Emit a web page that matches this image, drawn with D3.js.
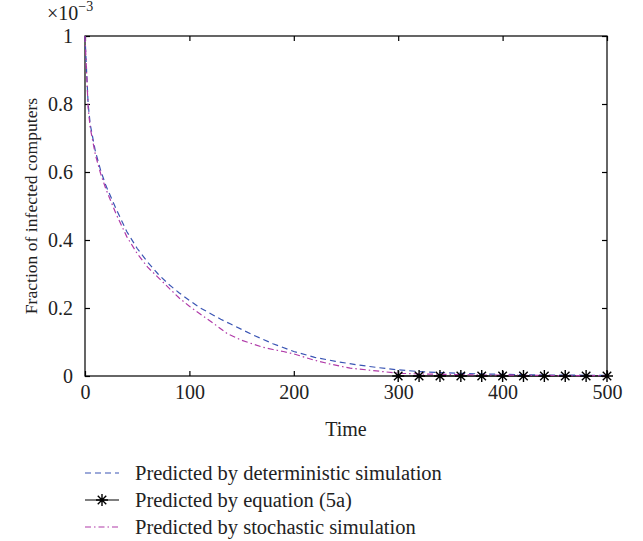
<!DOCTYPE html>
<html>
<head>
<meta charset="utf-8">
<script src="https://cdn.jsdelivr.net/npm/d3@7"></script>
<style>
  html, body { margin: 0; padding: 0; background: #fff; }
  svg { display: block; }
  text { font-family: "Liberation Serif", "DejaVu Serif", serif; fill: #222; }
</style>
</head>
<body>
<svg id="chart" width="643" height="541"></svg>
<script>
// ---- data (fraction ×10^-3) ----
const detTime = [0, 3, 5, 10, 15, 20, 30, 40, 50, 60, 70, 80, 90, 100, 110, 120, 130, 140, 160, 180, 200, 220, 240, 260, 280, 300, 320, 340, 360, 380, 400, 420, 440, 460, 480, 500];
const detValue = [1.0, 0.80, 0.74, 0.66, 0.605, 0.56, 0.49, 0.425, 0.375, 0.335, 0.30, 0.27, 0.245, 0.222, 0.201, 0.184, 0.167, 0.152, 0.122, 0.095, 0.072, 0.055, 0.043, 0.033, 0.025, 0.018, 0.013, 0.010, 0.008, 0.006, 0.005, 0.004, 0.003, 0.003, 0.002, 0.002];

const stoTime = [0, 3, 5, 10, 15, 20, 30, 40, 50, 60, 70, 80, 90, 100, 110, 123, 136, 150, 160, 170, 180, 190, 200, 219, 235, 254, 270, 285, 302, 320, 340, 360, 380, 400, 420, 440, 460, 480, 500];
const stoValue = [1.0, 0.79, 0.73, 0.65, 0.595, 0.55, 0.475, 0.41, 0.36, 0.32, 0.29, 0.26, 0.23, 0.205, 0.183, 0.155, 0.125, 0.105, 0.095, 0.085, 0.078, 0.072, 0.065, 0.047, 0.035, 0.023, 0.018, 0.013, 0.008, 0.006, 0.005, 0.004, 0.003, 0.003, 0.002, 0.002, 0.001, 0.001, 0.001];

const eqTime = [300, 320, 340, 360, 380, 400, 420, 440, 460, 480, 500];
const eqValue = [0, 0, 0, 0, 0, 0, 0, 0, 0, 0, 0];

const xTicks = [0, 100, 200, 300, 400, 500];
const yTicks = [0, 0.2, 0.4, 0.6, 0.8, 1];
const yTickLabels = ["0", "0.2", "0.4", "0.6", "0.8", "1"];

const legendLabels = [
  "Predicted by deterministic simulation",
  "Predicted by equation (5a)",
  "Predicted by stochastic simulation"
];

// ---- drawing ----
(function () {
const svg = d3.select("#chart");
const pL = 85, pR = 607, pT = 36, pB = 376;
const x = d3.scaleLinear().domain([0, 500]).range([pL, pR]);
const y = d3.scaleLinear().domain([0, 1]).range([pB, pT]);

const blue = "#3a55b4", magenta = "#b03aa8";
const fs = 20;

// frame
svg.append("rect").attr("x", pL).attr("y", pT)
  .attr("width", pR - pL).attr("height", pB - pT)
  .attr("fill", "none").attr("stroke", "#000").attr("stroke-width", 1.2);

// axes (ticks inside)
const xAxisB = d3.axisBottom(x).tickValues(xTicks).tickSizeInner(-5).tickSizeOuter(0).tickPadding(11).tickFormat(d3.format("d"));
const gxb = svg.append("g").attr("transform", `translate(0,${pB})`).call(xAxisB);
const xAxisT = d3.axisTop(x).tickValues(xTicks).tickSizeInner(-5).tickSizeOuter(0).tickFormat("");
const gxt = svg.append("g").attr("transform", `translate(0,${pT})`).call(xAxisT);
const yAxisL = d3.axisLeft(y).tickValues(yTicks).tickSizeInner(-5).tickSizeOuter(0).tickPadding(12)
  .tickFormat((d, i) => yTickLabels[i]);
const gyl = svg.append("g").attr("transform", `translate(${pL},0)`).call(yAxisL);
const yAxisR = d3.axisRight(y).tickValues(yTicks).tickSizeInner(-5).tickSizeOuter(0).tickFormat("");
const gyr = svg.append("g").attr("transform", `translate(${pR},0)`).call(yAxisR);

[gxb, gxt, gyl, gyr].forEach(g => {
  g.select(".domain").remove();
  g.selectAll(".tick line").attr("stroke", "#000").attr("stroke-width", 1.2);
  g.selectAll(".tick text").attr("font-size", fs).attr("fill", "#222")
    .attr("font-family", "Liberation Serif, serif");
});
gxb.selectAll(".tick text").attr("dy", "0.62em");

// exponent label
const ex = svg.append("text").attr("x", 47).attr("y", 20).attr("font-size", fs);
ex.append("tspan").text("×10");
ex.append("tspan").attr("dy", -9).attr("font-size", 14).text("−3");

// axis titles
svg.append("text").attr("x", (pL + pR) / 2).attr("y", 436)
  .attr("text-anchor", "middle").attr("font-size", fs).text("Time");
svg.append("text").attr("transform", `translate(37,${(pT + pB) / 2}) rotate(-90)`)
  .attr("text-anchor", "middle").attr("font-size", 17.6).text("Fraction of infected computers");

// lines
const line = d3.line().x(d => x(d[0])).y(d => y(d[1]));
const detData = detTime.map((t, i) => [t, detValue[i]]);
const stoData = stoTime.map((t, i) => [t, stoValue[i]]);
const eqData = eqTime.map((t, i) => [t, eqValue[i]]);

svg.append("path").datum(eqData).attr("d", line)
  .attr("fill", "none").attr("stroke", "#000").attr("stroke-width", 1.2);
svg.append("path").datum(detData).attr("d", line)
  .attr("fill", "none").attr("stroke", blue).attr("stroke-width", 1.2)
  .attr("stroke-dasharray", "6,4");
svg.append("path").datum(stoData).attr("d", line)
  .attr("fill", "none").attr("stroke", magenta).attr("stroke-width", 1.2)
  .attr("stroke-dasharray", "6,3,1.5,3");

// star markers
function star(g, cx, cy, r) {
  const a = r * Math.SQRT1_2;
  const p = `M${cx - r},${cy}L${cx + r},${cy}M${cx},${cy - r}L${cx},${cy + r}` +
            `M${cx - a},${cy - a}L${cx + a},${cy + a}M${cx - a},${cy + a}L${cx + a},${cy - a}`;
  g.append("path").attr("d", p).attr("stroke", "#000").attr("stroke-width", 1.4).attr("fill", "none");
}
const sg = svg.append("g");
eqData.forEach(d => star(sg, x(d[0]), y(d[1]), 6));

// legend
const lx0 = 85, lx1 = 119, ltx = 135;
const ly = [473, 500, 527];
const lg = svg.append("g");
lg.append("line").attr("x1", lx0).attr("x2", lx1).attr("y1", ly[0]).attr("y2", ly[0])
  .attr("stroke", blue).attr("stroke-width", 1.2).attr("stroke-dasharray", "6,4");
lg.append("line").attr("x1", lx0).attr("x2", lx1).attr("y1", ly[1]).attr("y2", ly[1])
  .attr("stroke", "#000").attr("stroke-width", 1.2);
star(lg, (lx0 + lx1) / 2, ly[1], 6);
lg.append("line").attr("x1", lx0).attr("x2", lx1).attr("y1", ly[2]).attr("y2", ly[2])
  .attr("stroke", magenta).attr("stroke-width", 1.2).attr("stroke-dasharray", "6,3,1.5,3");
legendLabels.forEach((t, i) => {
  lg.append("text").attr("x", ltx).attr("y", ly[i]).attr("dy", "0.35em")
    .attr("font-size", 20.5).text(t);
});
})();
</script>
</body>
</html>
